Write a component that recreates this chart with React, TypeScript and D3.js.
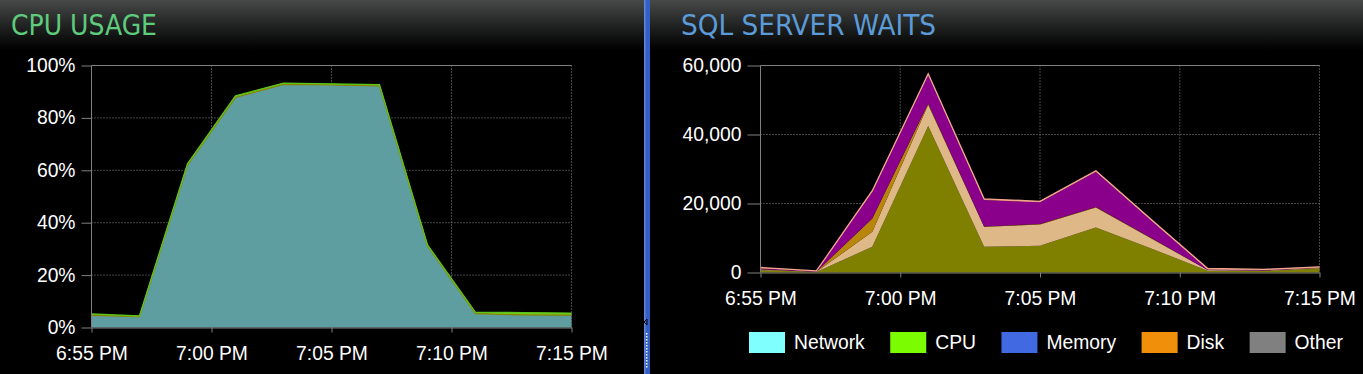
import React from "react";
import * as d3 from "d3";

// sample times (both charts sample every 2 minutes)
const sampleTimes = ["18:55", "18:57", "18:59", "19:01", "19:03", "19:05", "19:07", "19:09", "19:11", "19:13", "19:15"];

// CPU usage, percent
const cpuSql   = [4.6, 4.2, 62.0, 87.8, 92.8, 92.6, 92.2, 31.2, 5.3, 4.8, 4.7];
const cpuOther = [0.6, 0.2, 0.5, 0.6, 0.5, 0.4, 0.5, 0.3, 0.5, 0.9, 0.8];
const cpuTicks = [0, 20, 40, 60, 80, 100];

// SQL server waits, stacked bottom -> top
const waitsOlive  = [700, 150, 7440, 42500, 7440, 7730, 13060, 6900, 500, 400, 1150];
const waitsBurly  = [150, 50, 4360, 6100, 5800, 6200, 5800, 2900, 200, 150, 150];
const waitsGolden = [100, 50, 3880, 400, 100, 100, 100, 100, 50, 50, 50];
const waitsPurple = [300, 100, 7720, 8300, 7700, 6300, 10250, 5000, 150, 100, 100];
const waitsSalmon = [200, 100, 300, 300, 300, 300, 300, 300, 260, 200, 200];
const waitTicks = [0, 20000, 40000, 60000];

const legendNames  = ["Network", "CPU", "Memory", "Disk", "Other"];
const legendColors = ["#80ffff", "#7cfc00", "#4169e1", "#f0900a", "#808080"];

const W = 1363;
const H = 374;
const labelFont = "'Liberation Sans', Arial, sans-serif";
const labelSize = "19.3px";
const stretch = 1.09; // labels in the original are a bit taller than Arial
const titleFont = "'DejaVu Sans Condensed', 'DejaVu Sans', sans-serif";

export default function App() {
    const svgRef = React.useRef<SVGSVGElement>(null);

    React.useEffect(() => {
        document.body.style.margin = "0";
        document.body.style.background = "#000";

        const svg = d3.select(svgRef.current);
        svg.selectAll("*").remove();

        const parse = d3.timeParse("%H:%M");
        const times = sampleTimes.map(t => parse(t) as Date);

        // header gradient
        const defs = svg.append("defs");
        const grad = defs.append("linearGradient").attr("id", "hdr")
            .attr("x1", 0).attr("y1", 0).attr("x2", 0).attr("y2", 1);
        grad.append("stop").attr("offset", "0%").attr("stop-color", "#474949");
        grad.append("stop").attr("offset", "55%").attr("stop-color", "#1e1f1f");
        grad.append("stop").attr("offset", "100%").attr("stop-color", "#000");

        svg.append("rect").attr("width", W).attr("height", H).attr("fill", "#000");
        svg.append("rect").attr("width", W).attr("height", 50).attr("fill", "url(#hdr)");

        // titles
        svg.append("text").text("CPU USAGE")
            .attr("x", 11).attr("y", 34.5)
            .attr("textLength", 146).attr("lengthAdjust", "spacingAndGlyphs")
            .style("font-family", titleFont).style("font-size", "27.5px")
            .attr("fill", "#5ecb7d");
        svg.append("text").text("SQL SERVER WAITS")
            .attr("x", 681).attr("y", 34.5)
            .attr("textLength", 255).attr("lengthAdjust", "spacingAndGlyphs")
            .style("font-family", titleFont).style("font-size", "27.5px")
            .attr("fill", "#5b9bd8");

        // splitter bar
        svg.append("rect").attr("x", 644).attr("y", 0).attr("width", 6).attr("height", H).attr("fill", "#3460c4");
        svg.append("rect").attr("x", 644).attr("y", 0).attr("width", 1.5).attr("height", H).attr("fill", "#5f86dc");
        svg.append("path").attr("d", "M647,319 L644,322 L647,325 Z")
            .attr("fill", "none").attr("stroke", "#000").attr("stroke-width", 1);
        d3.range(333, 368, 3).forEach(y => {
            svg.append("rect").attr("x", 646).attr("y", y).attr("width", 1.5).attr("height", 1.5).attr("fill", "#fff");
        });

        const drawPanel = (opts: any) => {
            const {x0, x1, y0, y1, domainMax, ticks, fmt, ytick, keys, data, fills, strokes} = opts;
            const scaleX = d3.scaleTime().domain([times[0], times[times.length - 1]]).range([x0, x1]);
            const scaleY = d3.scaleLinear().domain([0, domainMax]).range([y0, y1]);
            const xTicks = scaleX.ticks(d3.timeMinute.every(5) as any);

            const g = svg.append("g");

            // dotted grid
            ticks.filter((t: number) => t > 0 && t < domainMax).forEach((t: number) => {
                g.append("line").attr("x1", x0).attr("x2", x1)
                    .attr("y1", scaleY(t)).attr("y2", scaleY(t))
                    .attr("stroke", "#8a8a8a").attr("stroke-dasharray", "1,2");
            });
            xTicks.slice(1).forEach(t => {
                g.append("line").attr("x1", scaleX(t)).attr("x2", scaleX(t))
                    .attr("y1", y1).attr("y2", y0)
                    .attr("stroke", "#8a8a8a").attr("stroke-dasharray", "1,2");
            });
            // solid top border
            g.append("line").attr("x1", x0).attr("x2", x1).attr("y1", y1).attr("y2", y1)
                .attr("stroke", "#808080");

            // stacked areas
            const stacked = d3.stack().keys(keys)(data);
            const area = d3.area<any>()
                .x((d, i) => scaleX(times[i]))
                .y0(d => scaleY(d[0]))
                .y1(d => scaleY(d[1]));
            const line = d3.line<any>()
                .x((d, i) => scaleX(times[i]))
                .y(d => scaleY(d[1]));
            stacked.forEach((layer, i) => {
                g.append("path").datum(layer).attr("d", area).attr("fill", fills[i]);
            });
            stacked.forEach((layer, i) => {
                if (strokes[i]) {
                    g.append("path").datum(layer).attr("d", line)
                        .attr("fill", "none").attr("stroke", strokes[i]).attr("stroke-width", 1.3);
                }
            });

            // axes
            const axisY = g.append("g").attr("transform", `translate(${x0},0)`)
                .call(d3.axisLeft(scaleY).tickValues(ticks).tickFormat(fmt).tickSize(ytick).tickPadding(6));
            const axisX = g.append("g").attr("transform", `translate(0,${y0})`)
                .call(d3.axisBottom(scaleX).tickValues(xTicks).tickFormat(d3.timeFormat("%-I:%M %p") as any)
                    .tickSize(5).tickSizeOuter(0));
            [axisY, axisX].forEach(a => {
                a.select(".domain").attr("stroke", "#808080");
                a.selectAll(".tick line").attr("stroke", "#808080");
                a.selectAll("text").attr("fill", "#fff")
                    .style("font-family", labelFont).style("font-size", labelSize);
            });
            axisY.select(".domain").attr("d", `M0,${y1}V${y0}`);
            // baseline about 32.5px below the axis, glyphs stretched vertically
            axisX.selectAll("text")
                .attr("y", 32.5 / stretch).attr("dy", 0)
                .attr("transform", `scale(1,${stretch})`);
            axisY.selectAll("text")
                .attr("dy", "0.3em")
                .attr("transform", `scale(1,${stretch}) translate(0,-0.3)`);

            return {scaleX, scaleY};
        };

        const cpuTable = times.map((t, i) => ({sql: cpuSql[i], other: cpuOther[i]}));
        drawPanel({
            x0: 91.5, x1: 571.5, y0: 327.5, y1: 65.5, domainMax: 100,
            ticks: cpuTicks, fmt: (d: number) => d + "%", ytick: 10,
            keys: ["sql", "other"], data: cpuTable,
            fills: ["#5f9ea0", "#6fd21c"],
            strokes: ["#8a8500", "#5ec41a"],
        });

        const waitTable = times.map((t, i) => ({
            olive: waitsOlive[i], burly: waitsBurly[i], golden: waitsGolden[i],
            purple: waitsPurple[i], salmon: waitsSalmon[i],
        }));
        drawPanel({
            x0: 760.5, x1: 1319.5, y0: 272.5, y1: 65.5, domainMax: 60000,
            ticks: waitTicks, fmt: d3.format(","), ytick: 13,
            keys: ["olive", "burly", "golden", "purple", "salmon"], data: waitTable,
            fills: ["#808000", "#deb887", "#b8860b", "#8b008b", "#f08080"],
            strokes: [null, null, null, null, "#f4a890"],
        });

        // legend, laid out by text width
        const legend = svg.append("g");
        let lx = 749;
        legendNames.forEach((name, i) => {
            legend.append("rect").attr("x", lx).attr("y", 332).attr("width", 36).attr("height", 21)
                .attr("fill", legendColors[i]);
            const txt = legend.append("text").text(name)
                .attr("transform", `translate(${lx + 45},349) scale(1,${stretch})`)
                .attr("fill", "#fff")
                .style("font-family", labelFont).style("font-size", labelSize);
            const tw = (txt.node() as SVGTextElement).getComputedTextLength();
            lx += 45 + tw + 25.5;
        });
    }, []);

    return <svg ref={svgRef} width={W} height={H} style={{display: "block"}}></svg>;
}
